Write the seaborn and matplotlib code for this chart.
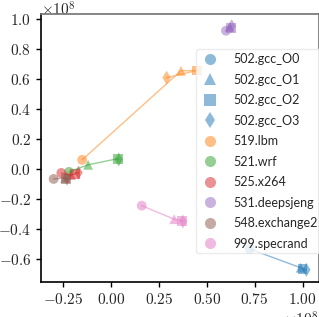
import pandas as pd
import seaborn as sns
import matplotlib.pyplot as plt
from matplotlib.lines import Line2D
from matplotlib.ticker import MultipleLocator

# data (values in units of 1e8)
benchmarks = ['502.gcc', '519.lbm', '521.wrf', '525.x264', '531.deepsjeng',
              '548.exchange2', '999.specrand']
opt_levels = ['O0', 'O1', 'O2', 'O3']
x_vals = {
    '502.gcc':       [0.724, 0.990, 1.000, 1.020],
    '519.lbm':       [-0.151, 0.365, 0.448, 0.290],
    '521.wrf':       [-0.220, -0.120, 0.035, 0.040],
    '525.x264':      [-0.260, -0.210, -0.190, -0.170],
    '531.deepsjeng': [0.600, 0.620, 0.625, 0.630],
    '548.exchange2': [-0.300, -0.240, -0.235, -0.230],
    '999.specrand':  [0.160, 0.330, 0.370, 0.375],
}
y_vals = {
    '502.gcc':       [-0.533, -0.658, -0.665, -0.672],
    '519.lbm':       [0.060, 0.653, 0.655, 0.607],
    '521.wrf':       [-0.020, 0.027, 0.068, 0.062],
    '525.x264':      [-0.027, -0.040, -0.035, -0.025],
    '531.deepsjeng': [0.920, 0.945, 0.940, 0.950],
    '548.exchange2': [-0.067, -0.060, -0.070, -0.065],
    '999.specrand':  [-0.245, -0.335, -0.345, -0.350],
}
legend_labels = ['502.gcc_O0', '502.gcc_O1', '502.gcc_O2', '502.gcc_O3',
                 '519.lbm', '521.wrf', '525.x264', '531.deepsjeng',
                 '548.exchange2', '999.specrand']

rows = []
for b in benchmarks:
    for i, o in enumerate(opt_levels):
        rows.append({'bench': b, 'opt': o, 'x': x_vals[b][i] * 1e8, 'y': y_vals[b][i] * 1e8})
df = pd.DataFrame(rows)

# style
sns.set_theme(style="ticks")
plt.rcParams['font.family'] = 'cmr10'
plt.rcParams['mathtext.fontset'] = 'cm'
plt.rcParams['axes.formatter.use_mathtext'] = True
plt.rcParams['font.size'] = 11

palette = dict(zip(benchmarks, sns.color_palette('tab10', len(benchmarks))))
markers = {'O0': 'o', 'O1': '^', 'O2': 's', 'O3': 'd'}

fig = plt.figure(figsize=(3.19, 3.17), dpi=100)
ax = fig.add_axes([41 / 319, 1 - 282 / 317, 278 / 319, 268 / 317])

sns.lineplot(data=df, x='x', y='y', hue='bench', palette=palette, sort=False,
             estimator=None, units='bench', alpha=0.5, linewidth=1, legend=False, ax=ax)
sns.scatterplot(data=df, x='x', y='y', hue='bench', style='opt', palette=palette,
                markers=markers, alpha=0.5, s=50, linewidth=0, legend=False, ax=ax)

ax.set_xlabel('')
ax.set_ylabel('')
ax.yaxis.set_major_locator(MultipleLocator(0.2e8))
ax.tick_params(labelsize=11, length=3.5, width=1, color='black')
yoff = ax.yaxis.get_offset_text()
yoff.set_fontsize(11)
yoff.set_verticalalignment('center')
ax.xaxis.get_offset_text().set_fontsize(11)
for s in ['left', 'bottom']:
    ax.spines[s].set_color('black')
    ax.spines[s].set_linewidth(1.2)
ax.spines['top'].set_color('#777777')
ax.spines['right'].set_color('#777777')

# legend: gcc per opt level, the rest as circles
handles = []
for o in opt_levels:
    handles.append(Line2D([], [], linestyle='', marker=markers[o], markersize=8,
                          color=palette['502.gcc'], alpha=0.5, markeredgewidth=0))
for b in benchmarks[1:]:
    handles.append(Line2D([], [], linestyle='', marker='o', markersize=8,
                          color=palette[b], alpha=0.5, markeredgewidth=0))
leg = ax.legend(handles, legend_labels, loc='upper left', bbox_to_anchor=(0.557, 0.868),
                borderaxespad=0, frameon=True, handlelength=1.6, handletextpad=1.1,
                labelspacing=0.68, borderpad=0.3, prop={'family': 'Lato', 'size': 9})
leg.get_frame().set_edgecolor('#e6e6e6')

fig.savefig('out.png', dpi=100)
